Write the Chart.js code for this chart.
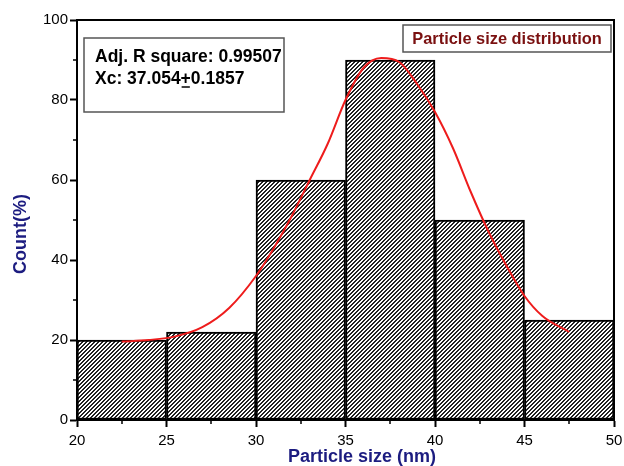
<!DOCTYPE html>
<html>
<head>
<meta charset="utf-8">
<script src="https://cdn.jsdelivr.net/npm/chart.js@4/dist/chart.umd.min.js"></script>
<style>
  body { margin: 0; background: #fff; }
  #wrap { width: 624px; height: 466px; }
</style>
</head>
<body>
<div id="wrap"><canvas id="chart" width="624" height="466"></canvas></div>
<script>
// histogram bins (centre of each 5 nm bin) and counts
var binCenters = [22.5, 27.5, 32.5, 37.5, 42.5, 47.5];
var binCounts = [20, 22, 60, 90, 50, 25];

// gaussian fit curve
var fitX = [22.5, 24, 25.5, 27, 28.5, 30, 31, 32, 33, 34, 35, 36, 37, 38, 39, 40, 41, 42, 43, 44, 45, 46, 47.5];
var fitY = [19.6, 20.0, 20.9, 23.2, 28, 36, 43, 51, 60, 69, 80, 88, 90.5, 89.5, 84, 77, 68, 57, 47, 38.5, 31, 26, 22];

var xTicks = [20, 25, 30, 35, 40, 45, 50];
var yTicks = [0, 20, 40, 60, 80, 100];
var xMinor = [22.5, 27.5, 32.5, 37.5, 42.5, 47.5];
var yMinor = [10, 30, 50, 70, 90];

var xTitle = 'Particle size (nm)';
var yTitle = 'Count(%)';
var legendText = 'Particle size distribution';
var fitLine1 = 'Adj. R square: 0.99507';
var fitLine2a = 'Xc: 37.054';
var fitLine2b = '+';
var fitLine2c = '0.1857';

var FONT = '"Liberation Sans", Arial, sans-serif';
var NAVY = '#1c1c80';

// hatch pattern "////"
function makeHatch() {
    var c = document.createElement('canvas');
    c.width = 4; c.height = 4;
    var g = c.getContext('2d');
    g.fillStyle = '#fff';
    g.fillRect(0, 0, 4, 4);
    g.fillStyle = '#222';
    for (var i = 0; i < 4; i++) {
        g.fillRect(i, 3 - i, 1, 1);
        g.fillRect((i + 1) % 4, 3 - i, 1, 1);
    }
    return document.getElementById('chart').getContext('2d').createPattern(c, 'repeat');
}

var decor = {
    id: 'decor',
    afterDraw: function(chart) {
        var ctx = chart.ctx;
        var a = chart.chartArea;
        var xs = chart.scales.x, ys = chart.scales.y;
        ctx.save();
        // frame top + right
        ctx.strokeStyle = '#000';
        ctx.lineWidth = 2;
        ctx.beginPath();
        ctx.moveTo(a.left, a.top);
        ctx.lineTo(a.right, a.top);
        ctx.lineTo(a.right, a.bottom);
        ctx.stroke();
        // minor ticks
        ctx.lineWidth = 1.5;
        ctx.beginPath();
        xMinor.forEach(function(v) {
            var px = Math.round(xs.getPixelForValue(v));
            ctx.moveTo(px, a.bottom);
            ctx.lineTo(px, a.bottom + 4);
        });
        yMinor.forEach(function(v) {
            var py = Math.round(ys.getPixelForValue(v));
            ctx.moveTo(a.left, py);
            ctx.lineTo(a.left - 4, py);
        });
        ctx.stroke();

        // axis titles
        ctx.fillStyle = NAVY;
        ctx.font = 'bold 18px ' + FONT;
        ctx.textAlign = 'center';
        ctx.textBaseline = 'middle';
        ctx.fillText(xTitle, 362, 457);
        ctx.save();
        ctx.translate(21, 234);
        ctx.rotate(-Math.PI / 2);
        ctx.fillText(yTitle, 0, 0);
        ctx.restore();

        // fit info box
        ctx.lineWidth = 1.5;
        ctx.strokeStyle = '#555';
        ctx.strokeRect(84, 38, 200, 74);
        ctx.fillStyle = '#000';
        ctx.font = 'bold 17.5px ' + FONT;
        ctx.textAlign = 'left';
        ctx.fillText(fitLine1, 95, 57);
        var x2 = 95;
        ctx.fillText(fitLine2a, x2, 79);
        x2 += ctx.measureText(fitLine2a).width;
        var pw = ctx.measureText(fitLine2b).width;
        ctx.fillText(fitLine2b, x2, 79);
        ctx.lineWidth = 1.5;
        ctx.strokeStyle = '#000';
        ctx.beginPath();
        ctx.moveTo(x2 + 1, 87);
        ctx.lineTo(x2 + pw - 1, 87);
        ctx.stroke();
        x2 += pw;
        ctx.fillText(fitLine2c, x2, 79);

        // legend box
        ctx.strokeStyle = '#555';
        ctx.lineWidth = 1.5;
        ctx.strokeRect(403, 25, 208, 27);
        ctx.fillStyle = '#7a1010';
        ctx.font = 'bold 16.4px ' + FONT;
        ctx.textAlign = 'center';
        ctx.fillText(legendText, 507, 39);
        ctx.restore();
    }
};

var ctx = document.getElementById('chart').getContext('2d');
var hatch = makeHatch();

var chart = new Chart(ctx, {
    type: 'bar',
    data: {
        datasets: [{
            type: 'line',
            data: fitX.map(function(x, i) { return {x: x, y: fitY[i]}; }),
            borderColor: '#ee1c1c',
            borderWidth: 2,
            pointRadius: 0,
            cubicInterpolationMode: 'monotone',
            fill: false,
            order: 0
        }, {
            type: 'bar',
            data: binCenters.map(function(x, i) { return {x: x, y: binCounts[i]}; }),
            backgroundColor: hatch,
            borderColor: '#000',
            borderWidth: 2,
            borderSkipped: false,
            barPercentage: 1,
            categoryPercentage: 1,
            order: 1
        }]
    },
    options: {
        responsive: false,
        animation: false,
        layout: { padding: { top: 20, right: 10, left: 0, bottom: 0 } },
        plugins: {
            legend: { display: false },
            tooltip: { enabled: false }
        },
        scales: {
            x: {
                type: 'linear',
                min: 20,
                max: 50,
                offset: false,
                afterBuildTicks: function(s) { s.ticks = xTicks.map(function(v) { return {value: v}; }); },
                afterFit: function(s) { s.height = 46; s.paddingLeft = 0; s.paddingRight = 0; },
                ticks: { color: '#000', font: { family: FONT, size: 15 }, padding: 5, maxRotation: 0 },
                grid: { display: true, drawOnChartArea: false, offset: false, tickLength: 7, tickColor: '#000', tickWidth: 2 },
                border: { color: '#000', width: 2 }
            },
            y: {
                min: 0,
                max: 100,
                afterBuildTicks: function(s) { s.ticks = yTicks.map(function(v) { return {value: v}; }); },
                afterFit: function(s) { s.width = 77; s.paddingTop = 0; s.paddingBottom = 0; },
                ticks: { color: '#000', font: { family: FONT, size: 15 }, padding: 2 },
                grid: { display: true, drawOnChartArea: false, tickLength: 7, tickColor: '#000', tickWidth: 2 },
                border: { color: '#000', width: 2 }
            }
        }
    },
    plugins: [decor]
});
</script>
</body>
</html>
